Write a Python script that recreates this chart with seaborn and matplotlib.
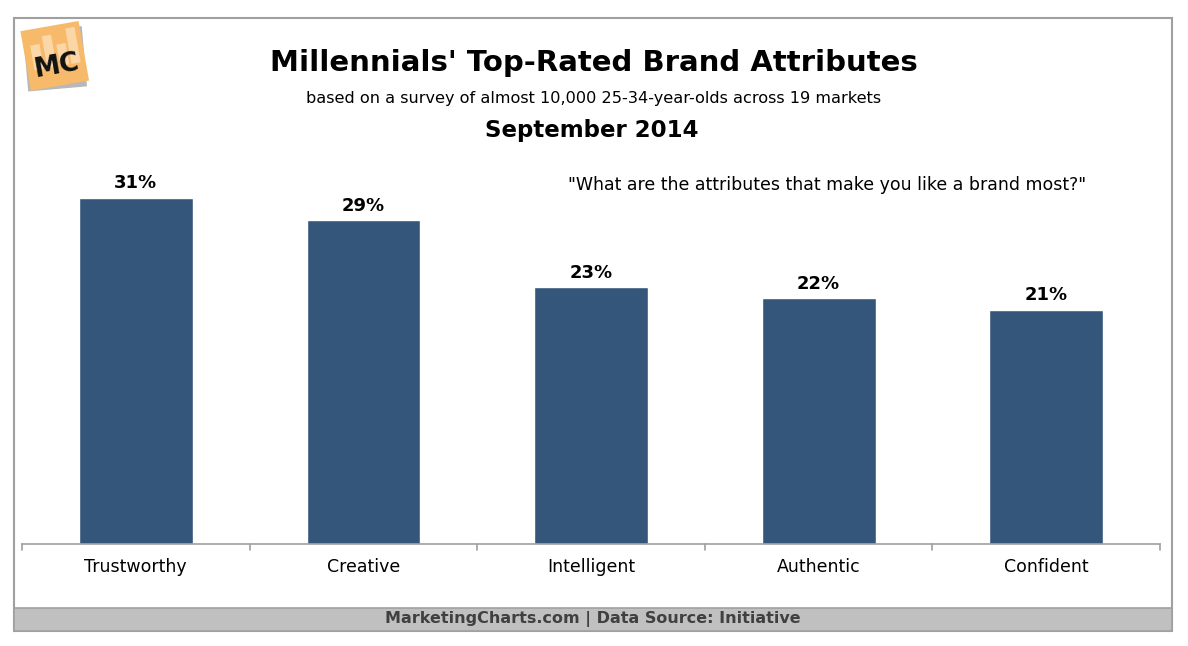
import matplotlib
matplotlib.use("Agg")
import matplotlib.pyplot as plt
import matplotlib.patches as mpatches
import matplotlib.transforms as mtransforms
import pandas as pd
import seaborn as sns

categories = ["Trustworthy", "Creative", "Intelligent", "Authentic", "Confident"]
values = [31, 29, 23, 22, 21]

title = "Millennials' Top-Rated Brand Attributes"
subtitle = "based on a survey of almost 10,000 25-34-year-olds across 19 markets"
date_label = "September 2014"
question = "\"What are the attributes that make you like a brand most?\""
footer = "MarketingCharts.com | Data Source: Initiative"

bar_color = "#34567a"

sns.set_theme(style="white")
plt.rcParams['font.family'] = ['DejaVu Sans']

W, H = 1188, 646
fig = plt.figure(figsize=(W / 100, H / 100), dpi=100)
fig.patch.set_facecolor("white")


def fx(px):
    return px / W


def fy(py):
    return 1 - py / H


# outer frame + footer band
frame = mpatches.Rectangle((fx(14), fy(631)), fx(1172) - fx(14), fy(18) - fy(631),
                           transform=fig.transFigure, fill=False,
                           edgecolor="#a0a0a0", linewidth=1.5, zorder=0)
fig.patches.append(frame)
band = mpatches.Rectangle((fx(14), fy(631)), fx(1172) - fx(14), fy(608) - fy(631),
                          transform=fig.transFigure, facecolor="#c0c0c0",
                          edgecolor="#a0a0a0", linewidth=1.2, zorder=0)
fig.patches.append(band)
fig.text(fx(593), fy(619), footer, ha="center", va="center",
         fontsize=11.5, fontweight="bold", color="#404040")

# MC logo
logo_ax = fig.add_axes([fx(18), fy(92), fx(90) - fx(18), fy(20) - fy(92)])
logo_ax.set_xlim(0, 1)
logo_ax.set_ylim(0, 1)
logo_ax.axis("off")
rot = mtransforms.Affine2D().rotate_deg_around(0.5, 0.5, 10) + logo_ax.transData
shadow = mpatches.Rectangle((0.1, 0.04), 0.82, 0.84, facecolor="#b8b8b8", edgecolor="none")
shadow.set_transform(mtransforms.Affine2D().rotate_deg_around(0.5, 0.5, 5) + logo_ax.transData)
logo_ax.add_patch(shadow)
sq = mpatches.Rectangle((0.1, 0.08), 0.82, 0.84, facecolor="#f7b96a", edgecolor="none")
sq.set_transform(rot)
logo_ax.add_patch(sq)
for bx, bh in [(0.2, 0.35), (0.38, 0.45), (0.56, 0.3), (0.72, 0.5)]:
    b = mpatches.Rectangle((bx, 0.35), 0.13, bh, facecolor="#fbd7a8", edgecolor="none")
    b.set_transform(rot)
    logo_ax.add_patch(b)
logo_ax.text(0.54, 0.36, "MC", ha="center", va="center", fontsize=19,
             fontweight="bold", color="#111111", rotation=10)

# titles
fig.text(fx(594), fy(63), title, ha="center", va="center",
         fontsize=21, fontweight="bold", color="black")
fig.text(fx(594), fy(98), subtitle, ha="center", va="center",
         fontsize=11.6, color="black")
fig.text(fx(592), fy(131), date_label, ha="center", va="center",
         fontsize=16.5, fontweight="bold", color="black")
fig.text(fx(827), fy(185), question, ha="center", va="center",
         fontsize=12.5, color="black")

# bars
ax = fig.add_axes([fx(22), fy(544), fx(1160) - fx(22), fy(160) - fy(544)])
df = pd.DataFrame({"attribute": categories, "share": values})
sns.barplot(data=df, x="attribute", y="share", color=bar_color, saturation=1,
            width=0.5, ax=ax)
ax.set_ylim(0, 384 / 11.16)
ax.set_xlim(-0.5, len(categories) - 0.5)
for i, v in enumerate(values):
    ax.text(i, v + 0.5, f"{v}%", ha="center", va="bottom",
            fontsize=13, fontweight="bold", color="black")

for s in ["top", "right", "left"]:
    ax.spines[s].set_visible(False)
ax.spines["bottom"].set_color("#a0a0a0")
ax.spines["bottom"].set_linewidth(1.2)
ax.set_yticks([])
ax.set_xlabel("")
ax.set_ylabel("")
ax.tick_params(axis="x", length=0, pad=10, labelsize=12.5, labelcolor="black")
# boundary ticks between categories
for b in [i - 0.5 for i in range(len(categories) + 1)]:
    ax.plot([b, b], [0, -0.55], color="#a0a0a0", linewidth=1.2, clip_on=False)

fig.savefig("out.png", dpi=100)
